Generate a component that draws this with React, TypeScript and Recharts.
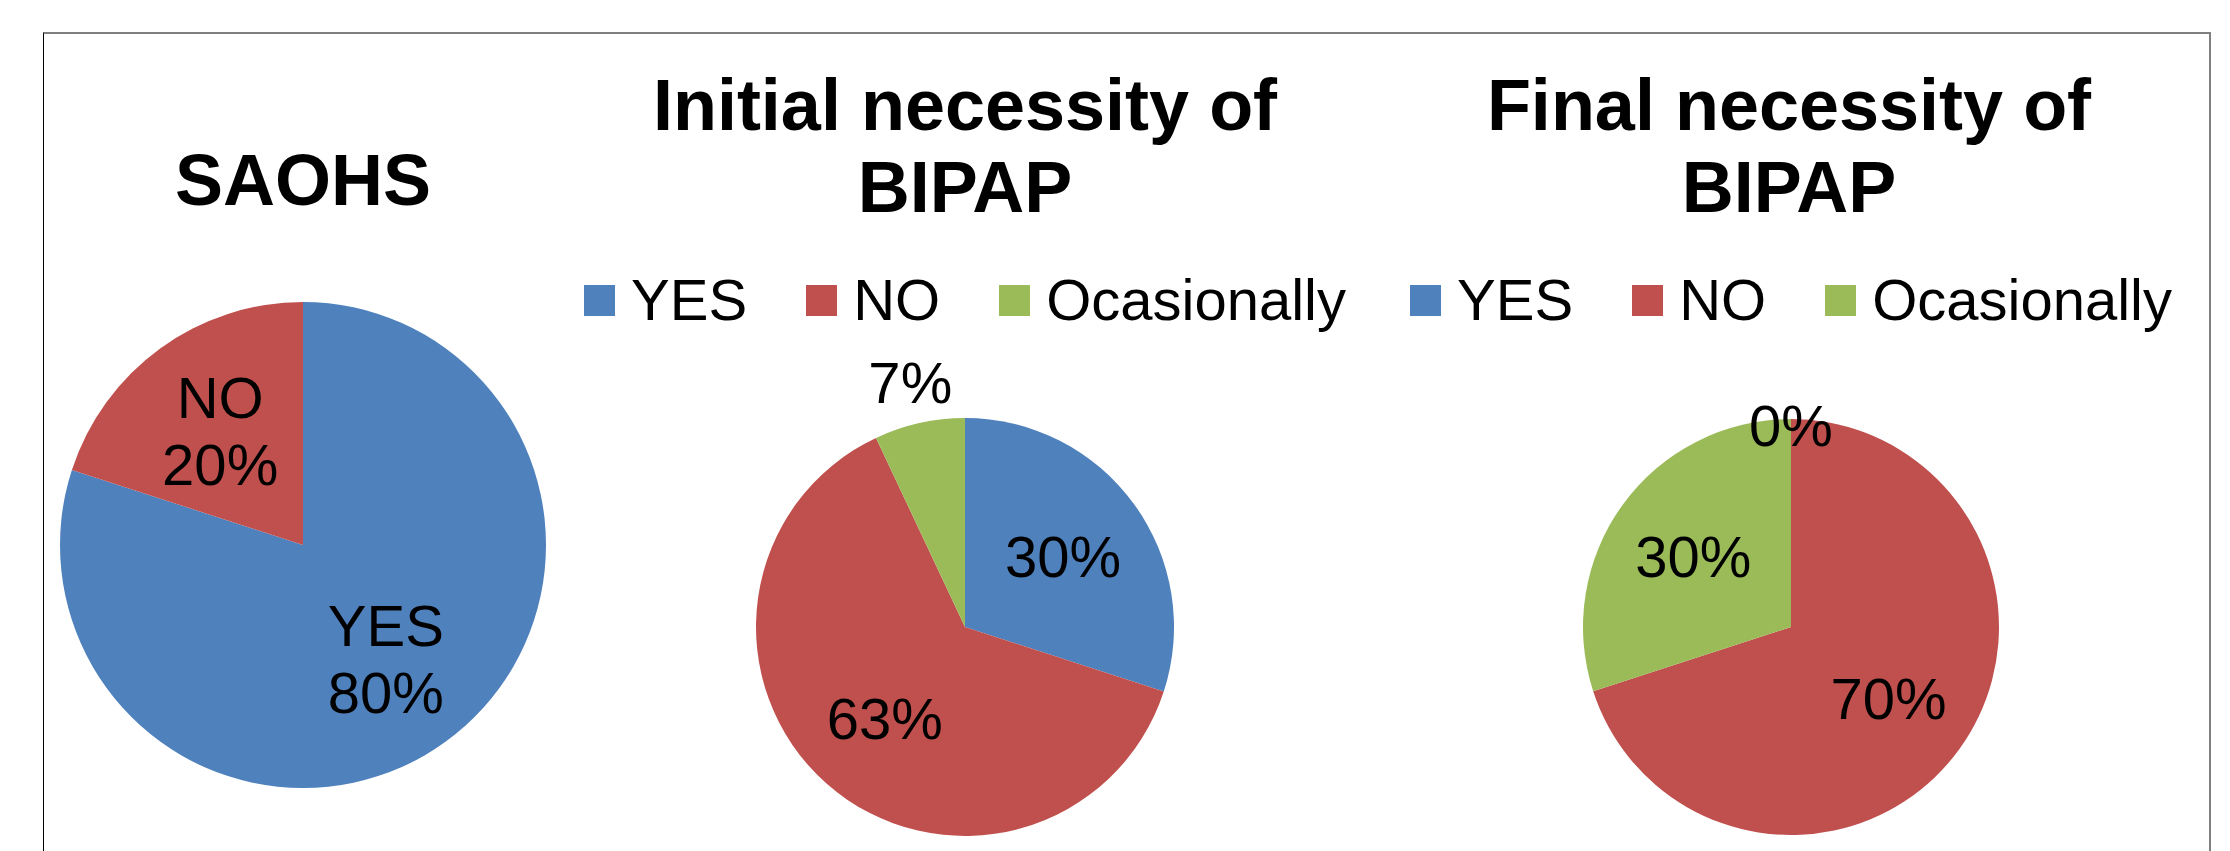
import { PieChart, Pie, Cell, Legend } from "recharts";

const FONT = "'Liberation Sans', Arial, sans-serif";

const categories = ["YES", "NO", "Ocasionally"];
const colors = ["#4F81BD", "#C0504D", "#9BBB59"];

// SAOHS pie only has two answers
const saohsNames = ["YES", "NO"];
const saohsValues = [80, 20];

const initialValues = [30, 63, 7];
const finalValues = [0, 70, 30];

const saohsData = saohsNames.map((name, i) => ({ name, value: saohsValues[i], fill: colors[i] }));
const initialData = categories.map((name, i) => ({ name, value: initialValues[i], fill: colors[i] }));
const finalData = categories.map((name, i) => ({ name, value: finalValues[i], fill: colors[i] }));

const RADIAN = Math.PI / 180;

function labelPoint(props: any) {
  const { cx, cy, midAngle, outerRadius, value } = props;
  const f = value === 0 ? 0.97 : value < 10 ? 1.2 : 0.58;
  const r = outerRadius * f;
  return {
    x: cx + r * Math.cos(-midAngle * RADIAN),
    y: cy + r * Math.sin(-midAngle * RADIAN),
  };
}

function PctLabel(props: any) {
  const { x, y } = labelPoint(props);
  return (
    <text x={x} y={y + 21} textAnchor="middle" fontSize={58} fontFamily={FONT} fill="#000">
      {props.value}%
    </text>
  );
}

function NamePctLabel(props: any) {
  const { x, y } = labelPoint(props);
  return (
    <text textAnchor="middle" fontSize={58} fontFamily={FONT} fill="#000">
      <tspan x={x} y={y - 13}>{props.name}</tspan>
      <tspan x={x} y={y + 54}>{props.value}%</tspan>
    </text>
  );
}

function LegendContent(props: any) {
  // keep the data order, recharts sorts legend items by name otherwise
  const items = [...(props.payload || [])].sort(
    (a: any, b: any) => categories.indexOf(a.value) - categories.indexOf(b.value)
  );
  return (
    <div style={{ display: "flex", justifyContent: "center", fontFamily: FONT, fontSize: 58, lineHeight: "66px", color: "#000" }}>
      {items.map((e: any, i: number) => (
        <div key={i} style={{ display: "flex", alignItems: "center", marginLeft: i ? 59 : 0 }}>
          <span style={{ width: 31, height: 31, background: e.color, marginRight: 16, display: "inline-block" }} />
          <span>{e.value}</span>
        </div>
      ))}
    </div>
  );
}

const titleStyle: React.CSSProperties = {
  position: "absolute",
  fontFamily: FONT,
  fontWeight: "bold",
  fontSize: 72,
  lineHeight: "82px",
  textAlign: "center",
  color: "#000",
};

export default function App() {
  return (
    <div style={{ position: "absolute", left: 0, top: 0, width: 2230, height: 851, overflow: "hidden", background: "#fff" }}>
      <div
        style={{
          position: "absolute",
          left: 43,
          top: 32,
          width: 2168,
          height: 900,
          boxSizing: "border-box",
          borderTop: "2px solid #7f7f7f",
          borderLeft: "1.5px solid #000",
          borderRight: "2px solid #7f7f7f",
        }}
      />

      <div style={{ ...titleStyle, left: 103, width: 400, top: 140, lineHeight: "80px" }}>SAOHS</div>
      <div style={{ ...titleStyle, left: 615, width: 700, top: 64 }}>
        Initial necessity of
        <br />
        BIPAP
      </div>
      <div style={{ ...titleStyle, left: 1439, width: 700, top: 64 }}>
        Final necessity of
        <br />
        BIPAP
      </div>

      <div style={{ position: "absolute", left: 43, top: 0 }}>
        <PieChart width={520} height={851} margin={{ top: 0, right: 0, bottom: 0, left: 0 }}>
          <Pie
            data={saohsData}
            dataKey="value"
            nameKey="name"
            cx={260}
            cy={545}
            outerRadius={243}
            startAngle={90}
            endAngle={-270}
            stroke="none"
            label={NamePctLabel}
            labelLine={false}
            isAnimationActive={false}
          >
            {saohsData.map((d, i) => (
              <Cell key={i} fill={d.fill} />
            ))}
          </Pie>
        </PieChart>
      </div>

      <div style={{ position: "absolute", left: 600, top: 0 }}>
        <PieChart width={730} height={851} margin={{ top: 0, right: 0, bottom: 0, left: 0 }}>
          <Legend
            layout="horizontal"
            align="center"
            verticalAlign="middle"
            wrapperStyle={{ top: 267, left: 0, width: "100%" }}
            content={LegendContent}
          />
          <Pie
            data={initialData}
            dataKey="value"
            nameKey="name"
            cx={365}
            cy={627}
            outerRadius={209}
            startAngle={90}
            endAngle={-270}
            stroke="none"
            label={PctLabel}
            labelLine={false}
            isAnimationActive={false}
          >
            {initialData.map((d, i) => (
              <Cell key={i} fill={d.fill} />
            ))}
          </Pie>
        </PieChart>
      </div>

      <div style={{ position: "absolute", left: 1420, top: 0 }}>
        <PieChart width={742} height={851} margin={{ top: 0, right: 0, bottom: 0, left: 0 }}>
          <Legend
            layout="horizontal"
            align="center"
            verticalAlign="middle"
            wrapperStyle={{ top: 267, left: 0, width: "100%" }}
            content={LegendContent}
          />
          <Pie
            data={finalData}
            dataKey="value"
            nameKey="name"
            cx={371}
            cy={627}
            outerRadius={208}
            startAngle={90}
            endAngle={-270}
            stroke="none"
            label={PctLabel}
            labelLine={false}
            isAnimationActive={false}
          >
            {finalData.map((d, i) => (
              <Cell key={i} fill={d.fill} />
            ))}
          </Pie>
        </PieChart>
      </div>
    </div>
  );
}
